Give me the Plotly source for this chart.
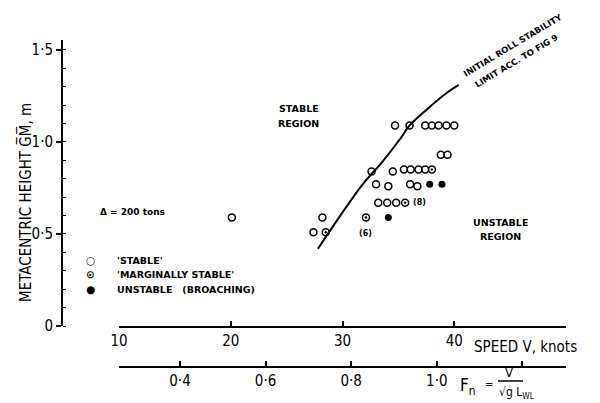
import plotly.graph_objects as go

# ---------------- data ----------------
stable_speed = [20.1, 28.2, 27.4, 32.6, 33.0, 34.1, 34.5, 34.7, 36.0, 33.2, 34.0, 34.8,
                35.5, 36.1, 36.8, 37.4, 36.05, 36.7, 38.8, 39.4, 37.4, 38.0, 38.6, 39.3, 40.0]
stable_gm = [0.59, 0.59, 0.51, 0.84, 0.77, 0.76, 0.84, 1.09, 1.09, 0.67, 0.67, 0.67,
             0.85, 0.85, 0.85, 0.85, 0.77, 0.76, 0.93, 0.93, 1.09, 1.09, 1.09, 1.09, 1.09]

marginal_speed = [28.5, 32.1, 35.6, 38.0]
marginal_gm = [0.51, 0.59, 0.67, 0.85]

unstable_speed = [34.1, 37.8, 38.9]
unstable_gm = [0.59, 0.77, 0.77]

limit_speed = [27.8, 31.8, 33.4, 35.2, 36.0, 37.8, 39.4, 40.4]
limit_gm = [0.42, 0.77, 0.88, 1.02, 1.09, 1.19, 1.27, 1.31]

speed_ticks = [10, 20, 30, 40, 50]
speed_labels = ["10", "20", "30", "40", ""]
fn_ticks = [0.4, 0.6, 0.8, 1.0, 1.2]
fn_labels = ["0·4", "0·6", "0·8", "1·0", ""]
gm_ticks = [0, 0.5, 1.0, 1.5]
gm_labels = ["0", "0·5", "1·0", "1·5"]

legend_names = ["'STABLE'", "'MARGINALLY STABLE'", "UNSTABLE   (BROACHING)"]
legend_keys = ["○", "⊙", "●"]

# ---------------- figure ----------------
W, H = 600, 403
def px(x):
    return x / W
def py(y):
    return 1 - y / H

AX_FONT = "DejaVu Sans Condensed, Liberation Sans Narrow, DejaVu Sans, sans-serif"
SMALL_FONT = "DejaVu Sans, sans-serif"

fig = go.Figure()

fig.add_trace(go.Scatter(x=limit_speed, y=limit_gm, mode="lines",
                         line=dict(color="black", width=2, shape="spline"),
                         showlegend=False, hoverinfo="skip"))
fig.add_trace(go.Scatter(x=stable_speed, y=stable_gm, mode="markers",
                         marker=dict(symbol="circle-open", size=7, color="black",
                                     line=dict(width=1.5, color="black")),
                         showlegend=False))
fig.add_trace(go.Scatter(x=marginal_speed, y=marginal_gm, mode="markers",
                         marker=dict(symbol="circle-open-dot", size=7, color="black",
                                     line=dict(width=1.5, color="black")),
                         showlegend=False))
fig.add_trace(go.Scatter(x=unstable_speed, y=unstable_gm, mode="markers",
                         marker=dict(symbol="circle", size=7, color="black"),
                         showlegend=False))

# empty trace to register the Froude-number axis
fig.add_trace(go.Scatter(x=[None], y=[None], xaxis="x2", showlegend=False, hoverinfo="skip"))

x_dom = [px(119), px(566)]
common = dict(showgrid=False, zeroline=False, showline=True, linecolor="black", linewidth=2,
              tickwidth=1.5, tickcolor="black", automargin=False,
              tickfont=dict(family=AX_FONT, size=15, color="black"))
fig.update_layout(
    width=W, height=H,
    margin=dict(l=0, r=0, t=0, b=0),
    paper_bgcolor="white", plot_bgcolor="white",
    showlegend=False,
    xaxis=dict(domain=x_dom, range=[10, 50], anchor="free", position=py(327),
               tickvals=speed_ticks, ticktext=speed_labels, ticks="inside", ticklen=5, **common),
    xaxis2=dict(overlaying="x", range=[0.2575, 1.302], anchor="free", position=py(367),
                side="bottom",
                tickvals=fn_ticks, ticktext=fn_labels, ticks="inside", ticklen=5, **common),
    yaxis=dict(domain=[py(326), py(40)], range=[0, 1.554], anchor="free", position=px(62),
               tickvals=gm_ticks, ticktext=gm_labels, ticks="outside", ticklen=5,
               minor=dict(ticks="inside", ticklen=3, dtick=0.1, tickwidth=1, tickcolor="black"),
               **common),
)

ann = []
def small(text, x, y, size=9.5, xref="x", yref="y", xanchor="center", angle=0):
    ann.append(dict(text=text, x=x, y=y, xref=xref, yref=yref, showarrow=False,
                    xanchor=xanchor, yanchor="middle", textangle=angle,
                    font=dict(family=SMALL_FONT, size=size, color="black")))

small("<b>STABLE</b>", 26.1, 1.18)
small("<b>REGION</b>", 26.1, 1.10)
small("<b>UNSTABLE</b>", 44.1, 0.565)
small("<b>REGION</b>", 44.1, 0.489)
small("<b>(6)</b>", 32.1, 0.50, size=8)
small("<b>(8)</b>", 36.9, 0.67, size=8)
small("<b>Δ = 200 tons</b>", 11.25, 0.62, size=9)
for key, name, yy in zip(legend_keys, legend_names, [260, 274, 289]):
    small("<b>" + key + "</b>", px(90), py(yy), size=10.5, xref="paper", yref="paper")
    small("<b>" + name + "</b>", px(115), py(yy), size=9.5, xref="paper", yref="paper", xanchor="left")
small("<b>INITIAL ROLL STABILITY</b>", px(513), py(45), size=8.5, xref="paper", yref="paper", angle=-31)
small("<b>LIMIT ACC. TO FIG 9</b>", px(516), py(61), size=8.5, xref="paper", yref="paper", angle=-31)

def big(text, x, y, size, xanchor="center", angle=0):
    ann.append(dict(text=text, x=x, y=y, xref="paper", yref="paper", showarrow=False,
                    xanchor=xanchor, yanchor="middle", textangle=angle,
                    font=dict(family=AX_FONT, size=size, color="black")))

big("METACENTRIC HEIGHT G\u0305M\u0305, m", px(25), py(203), 15, angle=-90)
big("SPEED V, knots", px(472), py(347), 15, xanchor="left")
big("F<sub>n</sub>", px(468), py(386), 17)
big("=", px(489), py(384), 11)
big("V", px(509), py(372), 13)
big("√g L<sub>WL</sub>", px(517), py(393), 12)

fig.update_layout(annotations=ann)
fig.add_shape(type="line", xref="paper", yref="paper", x0=px(498), x1=px(523),
              y0=py(381), y1=py(381), line=dict(color="black", width=1.5))

fig.write_html("out.html",
               config={"displayModeBar": False},
               post_script="document.body.style.margin='0';document.body.style.overflow='hidden';")
